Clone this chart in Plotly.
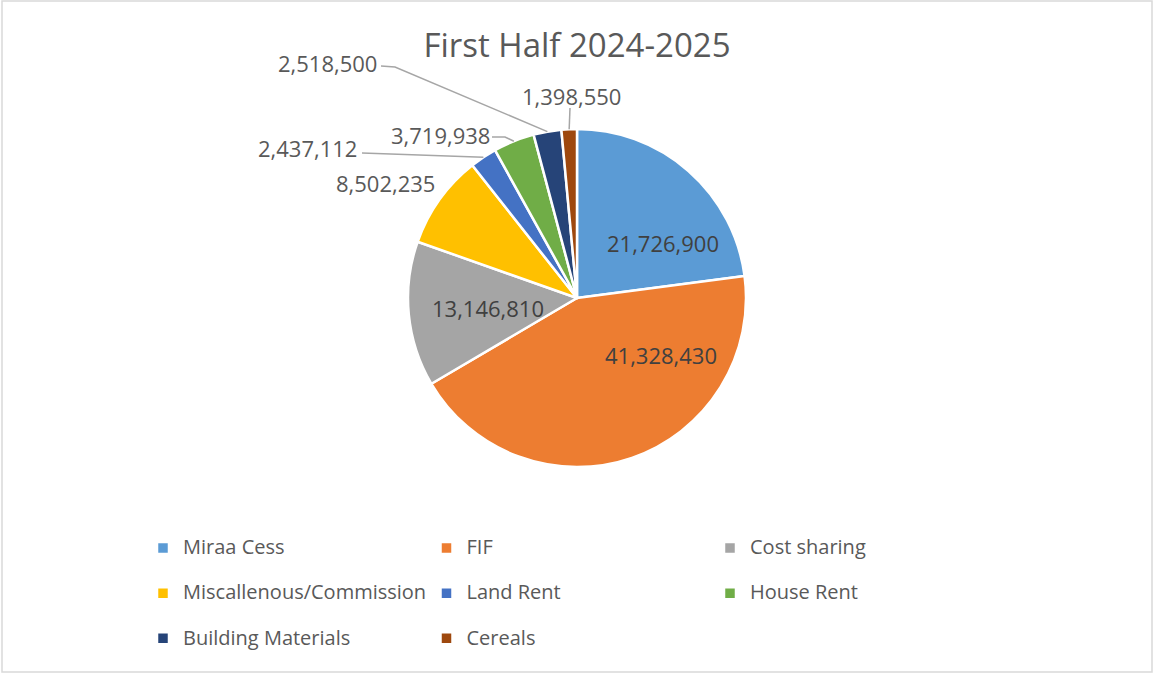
import math
import plotly.graph_objects as go

# ---- data ----
categories = ["Miraa Cess", "FIF", "Cost sharing", "Miscallenous/Commission",
              "Land Rent", "House Rent", "Building Materials", "Cereals"]
values = [21726900, 41328430, 13146810, 8502235, 2437112, 3719938, 2518500, 1398550]
colors = ["#5B9BD5", "#ED7D31", "#A5A5A5", "#FFC000",
          "#4472C4", "#70AD47", "#264478", "#9E480E"]
title_text = "First Half 2024-2025"

# ---- layout geometry (pixels) ----
W, H = 1154, 674
PL, PT, PW, PH = 140, 129, 874, 338

def px(x):
    return (x - PL) / PW

def py(y):
    return (PT + PH - y) / PH

# data-label anchor positions (pixels, label centres)
label_pos = {
    0: (663, 243), 1: (661, 355), 2: (488, 308), 3: (385, 183),
    4: (307, 148), 5: (440, 135), 6: (327, 63), 7: (571, 96),
}
label_color = {0: "#404040", 1: "#404040", 2: "#404040"}
# leader line start points (pixels) for outside labels
leader_start = {
    4: [(362, 153)],
    5: [(492, 137), (505, 137)],
    6: [(381, 66), (395, 67)],
    7: [(570, 108)],
}

legend_labels = [f'<span style="font-size:20px">{c}</span><br>\u00a0' for c in categories]

fig = go.Figure(go.Pie(
    labels=legend_labels,
    values=values,
    sort=False,
    direction="clockwise",
    rotation=0,
    marker=dict(colors=colors, line=dict(color="white", width=2.5)),
    textinfo="none",
    hoverinfo="label+value",
    domain=dict(x=[0, 1], y=[0, 1]),
))

# pie geometry from layout
cx = PL + PW / 2
cy = PT + PH / 2
R = min(PW, PH) / 2
total = sum(values)

annotations = []
shapes = []
cum = 0
for i, v in enumerate(values):
    theta = 2 * math.pi * (cum + v / 2) / total
    cum += v
    lx, ly = label_pos[i]
    annotations.append(dict(
        x=px(lx), y=py(ly), xref="paper", yref="paper",
        text=f"{v:,}", showarrow=False, xanchor="center", yanchor="middle",
        font=dict(family="Open Sans", size=22, color=label_color.get(i, "#595959")),
    ))
    if i in leader_start:
        ex = cx + R * math.sin(theta)
        ey = cy - R * math.cos(theta)
        pts = leader_start[i] + [(ex, ey)]
        path = "M " + " L ".join(f"{px(a):.5f},{py(b):.5f}" for a, b in pts)
        shapes.append(dict(type="path", xref="paper", yref="paper", path=path,
                           line=dict(color="#A6A6A6", width=1.5)))

# outer chart border
shapes.append(dict(type="rect", xref="paper", yref="paper",
                   x0=px(2), x1=px(1152), y0=py(672), y1=py(1),
                   line=dict(color="#D9D9D9", width=1.5), layer="below"))

fig.update_layout(
    width=W, height=H,
    margin=dict(l=PL, r=W - PL - PW, t=PT, b=H - PT - PH, autoexpand=False),
    paper_bgcolor="white",
    plot_bgcolor="white",
    font=dict(family="Open Sans", color="#595959"),
    title=dict(text=title_text, x=0.5, xanchor="center", xref="container",
               y=1 - 45 / H, yanchor="middle", yref="container",
               font=dict(family="Open Sans", size=33, color="#595959")),
    showlegend=True,
    legend=dict(orientation="h", x=px(143), xanchor="left",
                y=py(531), yanchor="top",
                entrywidth=238.5, entrywidthmode="pixels",
                valign="top",
                font=dict(family="Open Sans", size=16.2, color="#595959"),
                bgcolor="rgba(0,0,0,0)"),
    annotations=annotations,
    shapes=shapes,
)

fig.write_html("out.html",
               config={"displayModeBar": False},
               post_script="document.body.style.margin='0';document.body.style.overflow='hidden';")
